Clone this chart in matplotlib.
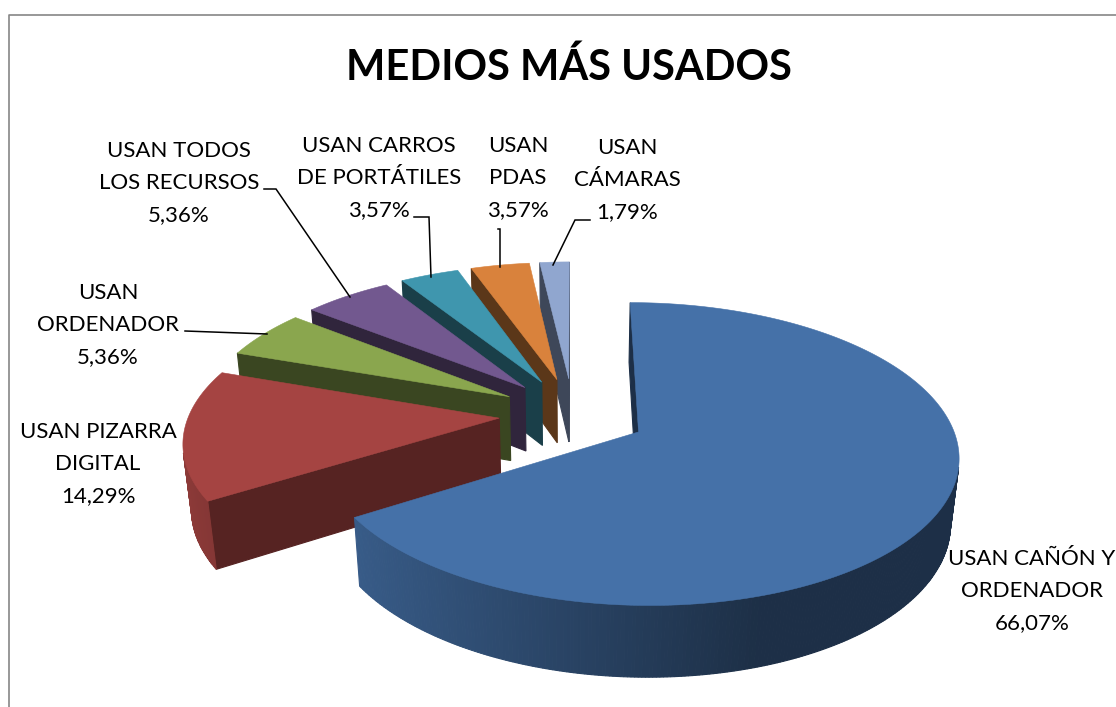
import numpy as np
import matplotlib
matplotlib.use('Agg')
import matplotlib.pyplot as plt
from matplotlib.patches import Polygon

# data
title = 'MEDIOS MÁS USADOS'
names = ['USAN CAÑÓN Y\nORDENADOR', 'USAN PIZARRA\nDIGITAL', 'USAN\nORDENADOR',
         'USAN TODOS\nLOS RECURSOS', 'USAN CARROS\nDE PORTÁTILES', 'USAN\nPDAS', 'USAN\nCÁMARAS']
values = [66.07, 14.29, 5.36, 5.36, 3.57, 3.57, 1.79]

# colours
top_colors = ['#4571a8', '#a54442', '#8aa64e', '#72588f', '#3f96ae', '#d9823c', '#90a6cf']
wall_factor = [0.42, 0.52, 0.42, 0.42, 0.42, 0.42, 0.43]

# label layout in pixels
label_pos = [(1032, 591), (98, 464), (108, 325), (179, 183), (379, 178), (518, 178), (627, 180)]
leaders = [None, None,
           [(185, 331), (267, 334)],
           [(264, 189), (276, 189), (350, 297)],
           [(414, 217), (429, 217), (431, 277)],
           [(498, 229), (500, 229), (500, 267)],
           [(590, 220), (575, 220), (553, 265)]]

# projection of the pie plane onto the picture
cx, cy = 572.8, 414.0
fx, fy = 310.0, 143.0
persp = 0.1433
depth = 66.0
depth_persp = 0.022
explode_x = 0.238
explode_y = 0.255


def project(X, Y, low=False):
    w = 1 + persp * Y + (depth_persp if low else 0)
    h = depth if low else 0
    return cx + fx * X / w, cy - (fy * Y - h) / w


def shade(color, k):
    return tuple(c * k for c in matplotlib.colors.to_rgb(color))


def face(ax, pts, color, z):
    pts = np.array(pts)
    x, y = pts[:, 0], pts[:, 1]
    if np.sum(x * np.roll(y, -1) - np.roll(x, -1) * y) < 0:
        ax.add_patch(Polygon(pts, closed=True, fc=color, ec=color, lw=0.8, zorder=z))


fig = plt.figure(figsize=(11.16, 7.07), dpi=100)
ax = fig.add_axes([0, 0, 1, 1])
ax.set_xlim(0, 1116)
ax.set_ylim(707, 0)
ax.axis('off')

# chart frame
ax.plot([8.5, 8.5, 1116], [707, 14.5, 14.5], color='#868686', lw=1.2, zorder=1)

edges = np.cumsum([0] + values) / sum(values) * 2 * np.pi
n = len(values)
for i in range(n - 1, -1, -1):
    t0, t1 = edges[i], edges[i + 1]
    mid = (t0 + t1) / 2
    ax0, ay0 = explode_x * np.sin(mid), explode_y * np.cos(mid)
    steps = max(int((t1 - t0) / 0.01), 4)
    t = np.linspace(t0, t1, steps)
    X = ax0 + np.sin(t)
    Y = ay0 + np.cos(t)
    z = 10 + (n - i)
    color = top_colors[i]
    wall = shade(color, wall_factor[i])

    apex_hi = project(ax0, ay0)
    apex_lo = project(ax0, ay0, True)
    hi = [project(a, b) for a, b in zip(X, Y)]
    lo = [project(a, b, True) for a, b in zip(X, Y)]

    # side walls first, then the rim, then the top
    face(ax, [apex_hi, hi[0], lo[0], apex_lo], wall, z)
    face(ax, [hi[-1], apex_hi, apex_lo, lo[-1]], wall, z)
    for j in range(steps - 1):
        nx = np.sin((t[j] + t[j + 1]) / 2)
        k = np.interp(nx, [-1, 0.3], [0.86, 0.42])
        face(ax, [hi[j], hi[j + 1], lo[j + 1], lo[j]], shade(color, k), z)
    ax.add_patch(Polygon([apex_hi] + hi, closed=True, fc=color, ec=color, lw=0.4, zorder=z))

# title and data labels
ax.text(569, 67, title, ha='center', va='center', fontsize=30, fontweight='bold',
        family='Lato', color='black', zorder=30)
for i in range(n):
    pct = f'{values[i]:.2f}'.replace('.', ',') + '%'
    ax.text(label_pos[i][0], label_pos[i][1], names[i] + '\n' + pct, ha='center', va='center',
            multialignment='center', fontsize=16, family='Lato', color='black',
            linespacing=1.76, zorder=30)
    if leaders[i] is not None:
        xs, ys = zip(*leaders[i])
        ax.plot(xs, ys, color='black', lw=1.1, zorder=25, solid_joinstyle='miter')

fig.savefig('out.png', dpi=100, facecolor='white')
